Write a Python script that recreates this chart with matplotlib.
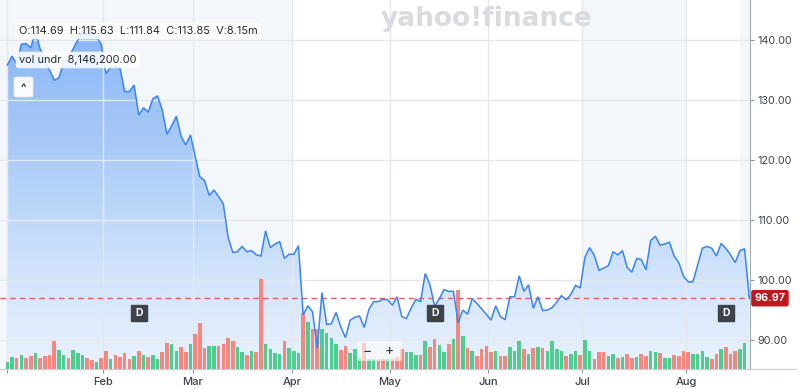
import numpy as np
import matplotlib
matplotlib.use("Agg")
import matplotlib.pyplot as plt
import matplotlib.transforms as mtrans
from matplotlib.patches import FancyBboxPatch, Polygon
from matplotlib.lines import Line2D
from matplotlib.colors import LinearSegmentedColormap

plt.rcParams['font.family'] = ['Inter', 'DejaVu Sans']

# ---------------- data ----------------
close = [
    135.8, 137.3, 136.1, 139.3, 139.4, 138.7, 141.4, 138.5, 136.8, 135.0,
    133.3, 133.7, 136.3, 137.0, 138.5, 140.0, 141.4, 141.0, 141.4, 140.5,
    139.3, 134.4, 135.5, 135.6, 135.3, 131.4, 131.4, 132.5, 127.5, 128.7,
    128.0, 130.2, 130.7, 128.3, 124.3, 125.7, 127.3, 124.0, 122.5, 124.2,
    120.6, 117.2, 116.6, 114.1, 115.0, 113.9, 112.7, 107.2, 104.6, 104.7,
    105.6, 104.7, 104.9, 104.2, 104.0, 108.2, 105.4, 106.0, 106.4, 103.6,
    104.3, 104.3, 105.7, 94.2, 95.7, 94.7, 88.6, 97.9, 92.6, 92.7,
    94.6, 92.2, 90.4, 93.3, 93.8, 94.0, 92.1, 95.1, 96.4, 96.4,
    96.8, 96.7, 95.8, 97.2, 93.9, 93.6, 95.3, 96.8, 96.4, 101.1,
    99.2, 95.6, 96.9, 98.4, 98.1, 98.1, 92.9, 95.0, 94.3, 96.9,
    96.1, 95.2, 94.3, 93.3, 95.7, 93.9, 93.4, 97.2, 97.2, 100.7,
    98.1, 99.2, 95.3, 97.2, 94.9, 95.0, 95.4, 96.3, 97.4, 96.7,
    97.6, 99.1, 98.7, 103.8, 105.4, 104.1, 101.6, 102.0, 102.4, 104.7,
    104.2, 104.9, 102.1, 101.3, 103.6, 103.4, 101.7, 106.6, 107.3, 105.8,
    106.0, 106.3, 104.0, 102.9, 100.6, 99.7, 99.7, 102.5, 105.3, 105.6,
    105.3, 104.0, 106.1, 105.3, 104.2, 102.9, 104.9, 105.2, 96.97,
]

volume_m = [
    2.2, 3.8, 3.5, 4.4, 3.5, 4.1, 5.1, 3.5, 4.1, 4.6,
    9.0, 6.1, 4.4, 3.5, 6.1, 5.1, 4.6, 3.5, 2.8, 2.3,
    3.5, 5.7, 3.3, 4.4, 3.8, 5.1, 3.3, 4.1, 5.7, 4.6,
    3.8, 4.4, 3.3, 5.4, 8.2, 7.9, 5.7, 6.9, 5.3, 7.9,
    11.2, 14.6, 6.6, 7.4, 7.4, 7.4, 8.0, 9.8, 9.0, 6.9,
    5.3, 4.5, 5.9, 5.4, 28.8, 8.0, 6.5, 5.2, 4.7, 9.0,
    6.6, 5.9, 5.2, 17.8, 15.1, 12.7, 12.7, 12.7, 11.4, 9.8,
    8.0, 6.1, 7.5, 5.0, 6.3, 3.4, 8.3, 3.2, 3.2, 3.2,
    3.2, 3.2, 3.2, 3.8, 6.3, 5.3, 5.3, 4.6, 4.4, 9.1,
    7.1, 9.5, 7.7, 5.5, 8.0, 9.5, 25.3, 10.6, 6.8, 5.8,
    4.1, 6.3, 7.4, 5.3, 5.8, 4.1, 4.3, 7.1, 5.9, 8.9,
    6.3, 4.8, 6.7, 6.9, 6.7, 5.8, 8.9, 6.4, 5.9, 4.2,
    4.8, 5.9, 4.6, 9.3, 5.9, 3.2, 5.3, 5.5, 4.2, 4.8,
    3.6, 3.9, 4.8, 3.6, 3.9, 4.7, 4.2, 5.9, 5.5, 5.2,
    3.4, 3.6, 4.5, 4.3, 5.9, 5.3, 4.8, 4.8, 5.9, 3.7,
    3.2, 4.7, 6.3, 6.9, 4.7, 5.9, 6.4, 8.2,
]

# G = up day (green), R = down day (red)
volume_dir = list(
    "GGRGRRGRRR" "RGGRGGGRRG" "RRGRRRRGRG" "RGGRRGGRRG"
    "RRRGGRRRRG" "GRGRRGGGGR" "GGGRGRRGGG" "GRRGGGRGGR"
    "RGRRRGGGRG" "RRGGRGRGRG" "RRRRGRRGGG" "RGRGRGGGGR"
    "GGRGGRRRGG" "RGRRGRRGGR" "GGRRRRGGGG" "RRGRRRGG"
)

month_labels = ['Feb', 'Mar', 'Apr', 'May', 'Jun', 'Jul', 'Aug']
month_pos = [20.38, 39.48, 60.56, 81.5, 102.37, 122.38, 144.53]
price_ticks = [90, 100, 110, 120, 130, 140]
last_price = 96.97
dividend_idx = [28, 91, 153]
shaded_spans = [(-2.0, 60.56), (122.38, 144.53), (156.0, 160.0)]

info_text = "O:114.69  H:115.63  L:111.84  C:113.85  V:8.15m"
vol_text = "vol undr  8,146,200.00"

# ---------------- figure ----------------
W, H = 800, 389
fig = plt.figure(figsize=(W / 100, H / 100), dpi=100)
fig.patch.set_facecolor('white')
rect = [0, 20 / H, 750 / W, 369 / H]

xmin, xmax = -1.555, 158.15
ymin, ymax = 85.17, 146.67
x = np.arange(len(close))

ax = fig.add_axes(rect)
ax.set_xlim(xmin, xmax)
ax.set_ylim(ymin, ymax)
ax.set_facecolor('white')
for a, b in shaded_spans:
    ax.axvspan(a, b, color='#f3f6fa', lw=0, zorder=0)

# gradient area under the price line
cmap = LinearSegmentedColormap.from_list(
    'fillgrad', [(0.0, '#eaf2fd'), (0.24, '#d3e5fb'), (0.6, '#a9caf8'), (1.0, '#82b1f6')])
grad = np.linspace(0, 1, 256).reshape(-1, 1)
im = ax.imshow(grad, extent=[xmin, xmax, ymin, ymax], origin='lower',
               aspect='auto', cmap=cmap, zorder=1, interpolation='bilinear')
verts = [(x[0], ymin)] + list(zip(x, close)) + [(x[-1], ymin)]
clip_poly = Polygon(verts, closed=True, transform=ax.transData, fc='none', ec='none')
ax.add_patch(clip_poly)
im.set_clip_path(clip_poly)

# grid
for v in price_ticks:
    ax.axhline(v, color='#e4e8ed', lw=1, zorder=2)
for p in [0] + month_pos:
    ax.axvline(p, color='#e4e8ed', lw=1, zorder=2)

ax.yaxis.tick_right()
ax.set_yticks(price_ticks)
ax.set_yticklabels([f"{v:.2f}" for v in price_ticks])
ax.set_xticks([0] + month_pos)
ax.set_xticklabels([''] + month_labels)
ax.tick_params(axis='y', length=3, width=0.8, color='#8d959e', labelcolor='#3d444b',
               labelsize=7.8, pad=2)
ax.tick_params(axis='x', length=3, width=0.8, color='#8d959e', labelcolor='#3d444b',
               labelsize=8, pad=3)
for lab in ax.get_xticklabels():
    lab.set_fontweight('medium')
for s in ['left', 'top']:
    ax.spines[s].set_visible(False)
ax.spines['right'].set_color('#a3abb3')
ax.spines['bottom'].set_color('#c9cfd6')
fig.add_artist(Line2D([750 / W, 796 / W], [20 / H, 20 / H], color='#c9cfd6', lw=0.8,
                      transform=fig.transFigure))

# volume bars
axv = fig.add_axes(rect, sharex=ax)
axv.set_ylim(0, 118.1)
axv.patch.set_visible(False)
axv.axis('off')
vcolors = ['#4fcc8f' if d == 'G' else '#f4877f' for d in volume_dir]
axv.bar(np.arange(len(volume_m)), volume_m, width=0.76, color=vcolors, lw=0)

# price line & overlays
axl = fig.add_axes(rect, sharex=ax, sharey=ax)
axl.patch.set_visible(False)
axl.axis('off')
axl.plot(x, close, color='#3a84f0', lw=1.1, solid_joinstyle='miter', zorder=3)
axl.axhline(last_price, color='#e0605a', lw=1, dashes=(4, 3), zorder=2)

trans_d = mtrans.blended_transform_factory(axl.transData, axl.transAxes)
axl.plot(dividend_idx, [0.152] * len(dividend_idx), 's', ms=11, color='#3d434a',
         transform=trans_d, clip_on=False, zorder=4)
for d in dividend_idx:
    axl.text(d, 0.152, 'D', transform=trans_d, ha='center', va='center',
             color='white', fontsize=7.5, fontweight='bold', zorder=5)

trans_p = mtrans.blended_transform_factory(axl.transAxes, axl.transData)
axl.annotate(f"{last_price:.2f}", xy=(1.0, last_price), xycoords=trans_p,
             xytext=(3.2, 0), textcoords='offset points', ha='left', va='center',
             color='white', fontsize=7.8, fontweight='bold', annotation_clip=False,
             bbox=dict(boxstyle='round,pad=0.3,rounding_size=0.2', fc='#c1161c', ec='none'),
             zorder=6)

# info boxes
fig.text(19 / W, 1 - 31 / H, info_text, ha='left', va='center', fontsize=7.9,
         color='#232a31',
         bbox=dict(boxstyle='round,pad=0.3', fc='white', ec='none', alpha=0.85))
fig.text(19 / W, 1 - 60 / H, vol_text, ha='left', va='center', fontsize=7.9,
         color='#232a31',
         bbox=dict(boxstyle='round,pad=0.3', fc='white', ec='none', alpha=0.85))
fig.add_artist(FancyBboxPatch((14 / W, 1 - 97 / H), 19 / W, 20 / H,
                              boxstyle='round,pad=0,rounding_size=0.004',
                              transform=fig.transFigure, fc='white', ec='#e6e9ed', lw=0.6,
                              alpha=0.95))
fig.text(23.5 / W, 1 - 88 / H, '^', ha='center', va='center', fontsize=8,
         fontweight='bold', color='#333a41')

# zoom controls
fig.add_artist(FancyBboxPatch((357 / W, 1 - 361 / H), 45 / W, 20 / H,
                              boxstyle='round,pad=0,rounding_size=0.003',
                              transform=fig.transFigure, fc='white', ec='none', alpha=0.6))
fig.text(367.7 / W, 1 - 351 / H, '\u2212', ha='center', va='center', fontsize=10,
         color='#2f363d')
fig.text(389.3 / W, 1 - 351 / H, '+', ha='center', va='center', fontsize=10,
         color='#2f363d')

# watermark
fig.text(487 / W, 1 - 19 / H, 'yahoo!finance', ha='center', va='center', fontsize=19,
         fontweight='bold', color='#d8dbe0', family='DejaVu Sans')

fig.savefig('out.png', dpi=100, facecolor='white')
